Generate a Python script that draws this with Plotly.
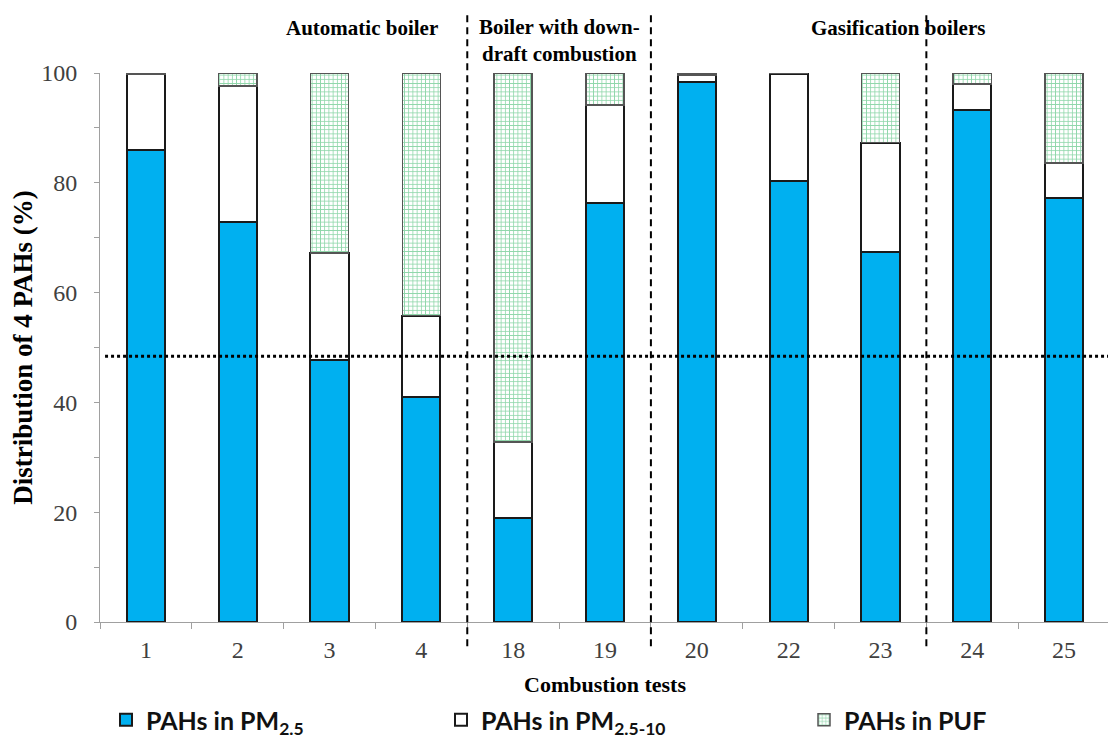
import plotly.graph_objects as go

tests = ["1", "2", "3", "4", "18", "19", "20", "22", "23", "24", "25"]
pm25 = [86.0, 72.9, 47.7, 40.9, 19.0, 76.3, 98.3, 80.3, 67.4, 93.3, 77.2]
pm25_10 = [13.8, 24.7, 19.5, 14.9, 13.8, 17.9, 1.3, 19.6, 19.9, 4.7, 6.4]
puf = [0.2, 2.4, 32.8, 44.2, 67.2, 5.8, 0.4, 0.1, 12.7, 2.0, 16.4]

group_labels = ["Automatic boiler", "Boiler with down-<br>draft combustion", "Gasification boilers"]
group_label_x = [0.259, 0.455, 0.790]
divider_positions = [3.5, 5.5, 8.5]
reference_level = 48.4

serif = "Liberation Serif"

fig = go.Figure()
fig.add_trace(go.Bar(
    x=tests, y=pm25, name="PAHs in PM<sub>2.5</sub>", legend="legend",
    marker=dict(color="#00B0F0", line=dict(color="#1a1a1a", width=2)),
))
fig.add_trace(go.Bar(
    x=tests, y=pm25_10, name="PAHs in PM<sub>2.5-10</sub>", legend="legend2",
    marker=dict(color="white", line=dict(color="#1a1a1a", width=2)),
))
fig.add_trace(go.Bar(
    x=tests, y=puf, name="PAHs in PUF", legend="legend3",
    marker=dict(color="white", line=dict(color="#555555", width=1.5),
                pattern=dict(shape="+", fgcolor="#1fae55", bgcolor="white",
                             size=4.2, solidity=0.35, fillmode="overlay")),
))

for xp in divider_positions:
    fig.add_shape(type="line", xref="x", yref="paper", x0=xp, x1=xp,
                  y0=-0.044, y1=1.112,
                  line=dict(color="black", width=2, dash="7px,5px"))

fig.add_shape(type="line", xref="paper", yref="y", x0=0.005, x1=1.0,
              y0=reference_level, y1=reference_level,
              line=dict(color="black", width=3, dash="3px,3px"))

for txt, xp in zip(group_labels, group_label_x):
    fig.add_annotation(text="<b>" + txt + "</b>", x=xp, xref="paper", xanchor="center",
                       y=1.0, yref="paper", yanchor="middle",
                       yshift=33 if "<br>" in txt else 45,
                       showarrow=False, align="center",
                       font=dict(family=serif, size=21, color="black"))

legend_font = dict(family="Lato", size=25, color="#111111", weight="bold")
legend_common = dict(orientation="h", xref="container", yref="container",
                     y=1 - 712 / 740, yanchor="middle", xanchor="left",
                     font=legend_font, bgcolor="rgba(0,0,0,0)")

fig.update_layout(
    barmode="stack",
    bargap=0.585,
    width=1116, height=740,
    margin=dict(l=92, r=14, t=65, b=126, autoexpand=False),
    plot_bgcolor="white", paper_bgcolor="white",
    showlegend=True,
    legend=dict(x=98 / 1116, **legend_common),
    legend2=dict(x=433 / 1116, **legend_common),
    legend3=dict(x=796 / 1116, **legend_common),
    xaxis=dict(
        type="category", tickson="boundaries",
        showline=True, linecolor="#a0a0a0", linewidth=1,
        ticks="outside", ticklen=6, tickcolor="#a0a0a0",
        ticklabelstandoff=6,
        tickfont=dict(family=serif, size=24, color="#404040"),
        title=dict(text="<b>Combustion tests</b>", font=dict(family=serif, size=22, color="black"),
                   standoff=14),
    ),
    yaxis=dict(
        range=[0, 100], tickvals=[0, 20, 40, 60, 80, 100],
        showline=True, linecolor="#a0a0a0", linewidth=1,
        ticks="outside", ticklen=5, tickcolor="#a0a0a0",
        ticklabelstandoff=12,
        minor=dict(dtick=10, ticks="outside", ticklen=5, tickcolor="#a0a0a0"),
        showgrid=False, zeroline=False,
        tickfont=dict(family=serif, size=24, color="#404040"),
        title=dict(text="<b>Distribution of 4 PAHs (%)</b>", font=dict(family=serif, size=27, color="black"),
                   standoff=14),
    ),
)

fig.write_html("out.html")
